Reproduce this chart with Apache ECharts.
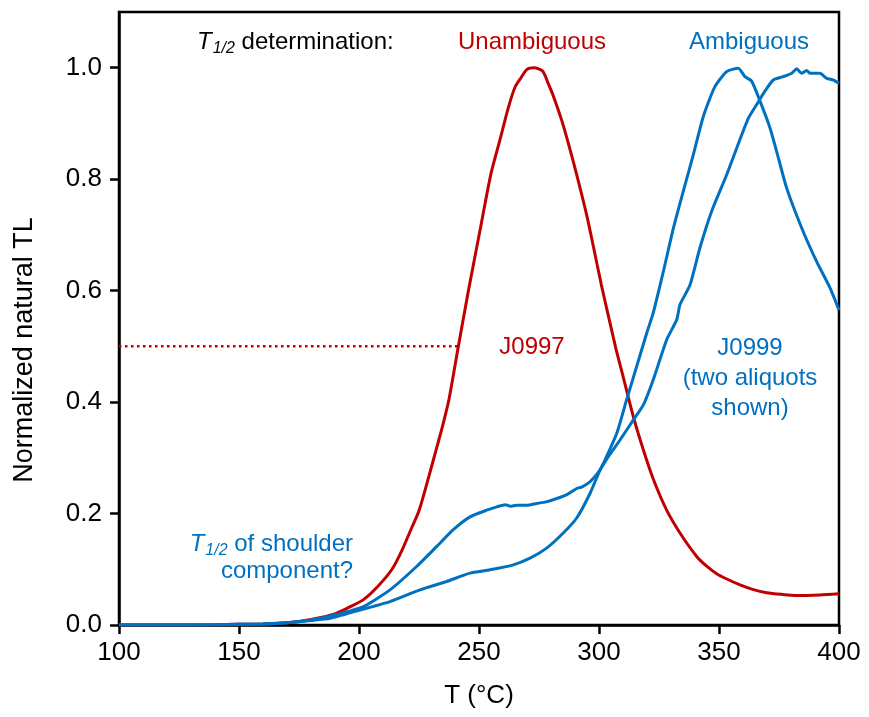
<!DOCTYPE html>
<html>
<head>
<meta charset="utf-8">
<script src="https://cdn.jsdelivr.net/npm/echarts@6/dist/echarts.min.js"></script>
<style>
  html, body { margin: 0; padding: 0; background: #fff; }
  #chart { width: 869px; height: 717px; }
</style>
</head>
<body>
<div id="chart"></div>
<script>
// Normalized natural TL glow curves, [temperature °C, normalized TL]
const j0997 = [
  [100,0],[120,0],[140,0.0005],[160,0.002],[170,0.004],[180,0.01],[190,0.02],
  [196,0.032],[202,0.046],[208,0.07],[213.75,0.1],[218,0.135],[222,0.175],[225,0.205],
  [229,0.265],[232.5,0.32],[235,0.36],[237.5,0.405],[241.4,0.5],[245.6,0.6],[250.5,0.71],
  [255,0.81],[258.75,0.871],[262.2,0.928],[265,0.965],[267.5,0.982],[270,0.997],
  [273,1.0],[276.5,0.994],[279,0.97],[281,0.949],[284.5,0.905],[287.5,0.86],[290.7,0.808],
  [294.9,0.735],[298,0.672],[301,0.61],[304,0.553],[307,0.497],[310.1,0.445],[314.3,0.374],
  [318.5,0.314],[322.6,0.262],[328.2,0.206],[333.75,0.165],[340.7,0.123],[345,0.105],
  [349,0.092],[353,0.083],[358.75,0.072],[364,0.064],[369.9,0.058],[376,0.055],
  [382.4,0.053],[392,0.054],[400,0.056]
];
// J0999, aliquot with a single sharp peak
const j0999a = [
  [100,0],[120,0],[140,0.0005],[160,0.002],[170,0.004],[180,0.008],[187.9,0.012],
  [200.4,0.027],[212.9,0.042],[225.4,0.063],[236.5,0.078],[246.25,0.093],[254.6,0.099],
  [264.3,0.108],[271.25,0.12],[278.2,0.138],[285.1,0.165],[290.7,0.192],[296.25,0.236],
  [300.4,0.278],[302.5,0.296],[307.4,0.344],[311.5,0.404],[315.7,0.464],[319.9,0.524],
  [322.6,0.56],[326.8,0.634],[331,0.712],[335.1,0.778],[339.3,0.844],[343.5,0.913],
  [348.3,0.966],[353.2,0.993],[358,0.999],[360.8,0.984],[363.6,0.976],[367.1,0.94],
  [371.25,0.892],[374,0.85],[378.2,0.784],[384.5,0.712],[390.7,0.652],[396.25,0.605],
  [400,0.565]
];
// J0999, aliquot with a low-temperature shoulder
const j0999b = [
  [100,0],[120,0],[140,0.0005],[160,0.002],[170,0.004],[180,0.009],[190,0.018],
  [201.8,0.033],[212.9,0.063],[224,0.105],[232.4,0.141],[239.3,0.171],[246.25,0.194],
  [253.2,0.206],[257.4,0.212],[261,0.216],[263,0.213],[265.7,0.215],[270,0.215],
  [274,0.218],[278,0.221],[282.4,0.227],[287,0.235],[290.7,0.245],[293,0.248],
  [296.25,0.257],[300.4,0.278],[304,0.303],[308.75,0.332],[314.3,0.368],[318.5,0.395],
  [322.6,0.44],[328.2,0.512],[332.4,0.548],[333.75,0.575],[337.9,0.61],[342,0.676],
  [346.9,0.742],[353.2,0.808],[357.4,0.856],[362.2,0.909],[365.7,0.934],[369,0.957],
  [372.6,0.978],[376.8,0.984],[380.3,0.99],[382.4,0.998],[384.4,0.99],[386.5,0.995],
  [388,0.99],[390,0.99],[392,0.99],[394.9,0.981],[397.6,0.978],[400,0.972]
];
// Half-maximum guide for J0997
const halfMaxLine = [[100,0.5],[241.4,0.5]];

const xTicks = [100,150,200,250,300,350,400];
const yTicks = [0,0.2,0.4,0.6,0.8,1.0];

const RED = '#C00000';
const BLUE = '#0070C0';
const FONT = 'Liberation Sans';

const chart = echarts.init(document.getElementById('chart'), null, {renderer: 'canvas'});

chart.setOption({
  animation: false,
  backgroundColor: '#fff',
  textStyle: {fontFamily: FONT},
  grid: {
    left: 119, right: 30, top: 12, bottom: 92,
    show: true, borderColor: '#000', borderWidth: 2.5, backgroundColor: 'transparent'
  },
  xAxis: {
    type: 'value', min: 100, max: 400, interval: 50,
    name: 'T (°C)', nameLocation: 'middle', nameGap: 58,
    nameTextStyle: {fontSize: 26, color: '#000', fontFamily: FONT},
    axisLine: {show: true, lineStyle: {color: '#000', width: 2.5}},
    axisTick: {show: true, length: 9, lineStyle: {color: '#000', width: 2.5}},
    axisLabel: {fontSize: 26, color: '#000', margin: 15, fontFamily: FONT,
      customValues: xTicks},
    splitLine: {show: false}
  },
  yAxis: {
    type: 'value', min: 0, max: 1.1,
    axisLine: {show: true, lineStyle: {color: '#000', width: 2.5}},
    axisTick: {show: true, length: 9, lineStyle: {color: '#000', width: 2.5},
      customValues: yTicks},
    axisLabel: {fontSize: 26, color: '#000', margin: 17, fontFamily: FONT,
      customValues: yTicks, formatter: v => v.toFixed(1)},
    splitLine: {show: false}
  },
  series: [
    {
      name: 'half max', type: 'line', data: halfMaxLine, symbol: 'none', silent: true,
      lineStyle: {color: RED, width: 2.5, type: [2.5, 3.5]}, z: 1
    },
    {
      name: 'J0997', type: 'line', data: j0997, symbol: 'none', smooth: 0.25,
      lineStyle: {color: RED, width: 3}, z: 3
    },
    {
      name: 'J0999 a', type: 'line', data: j0999a, symbol: 'none', smooth: 0.2,
      lineStyle: {color: BLUE, width: 3}, z: 4
    },
    {
      name: 'J0999 b', type: 'line', data: j0999b, symbol: 'none', smooth: 0.2,
      lineStyle: {color: BLUE, width: 3}, z: 4
    }
  ],
  graphic: [
    {
      type: 'text', x: 25, y: 350, rotation: Math.PI / 2,
      style: {text: 'Normalized natural TL', fontSize: 27, fill: '#000', fontFamily: FONT,
        textAlign: 'center', textVerticalAlign: 'middle'}
    },
    {
      type: 'text', x: 197, y: 42,
      style: {
        text: '{t|T}{s|1/2}{n| determination:}',
        textVerticalAlign: 'middle',
        rich: {
          t: {fontSize: 24, fontStyle: 'italic', fill: '#000', fontFamily: FONT},
          s: {fontSize: 16, fontStyle: 'italic', fill: '#000', fontFamily: FONT, padding: [13, 0, 0, 1]},
          n: {fontSize: 24, fill: '#000', fontFamily: FONT}
        }
      }
    },
    {type: 'text', x: 532, y: 42, style: {text: 'Unambiguous', fontSize: 24, fill: RED, fontFamily: FONT, textAlign: 'center', textVerticalAlign: 'middle'}},
    {type: 'text', x: 749, y: 42, style: {text: 'Ambiguous', fontSize: 24, fill: BLUE, fontFamily: FONT, textAlign: 'center', textVerticalAlign: 'middle'}},
    {type: 'text', x: 532, y: 347, style: {text: 'J0997', fontSize: 24, fill: RED, fontFamily: FONT, textAlign: 'center', textVerticalAlign: 'middle'}},
    {type: 'text', x: 750, y: 378, style: {text: 'J0999\n(two aliquots\nshown)', fontSize: 24, lineHeight: 30, fill: BLUE, fontFamily: FONT, textAlign: 'center', textVerticalAlign: 'middle'}},
    {
      type: 'text', x: 353, y: 558,
      style: {
        text: '{t|T}{s|1/2}{n| of shoulder}\n{n|component?}',
        textAlign: 'right', textVerticalAlign: 'middle',
        rich: {
          t: {fontSize: 24, fontStyle: 'italic', fill: BLUE, fontFamily: FONT, lineHeight: 27},
          s: {fontSize: 16, fontStyle: 'italic', fill: BLUE, fontFamily: FONT, padding: [13, 0, 0, 1], lineHeight: 27},
          n: {fontSize: 24, fill: BLUE, fontFamily: FONT, lineHeight: 27}
        }
      }
    }
  ]
});
</script>
</body>
</html>
